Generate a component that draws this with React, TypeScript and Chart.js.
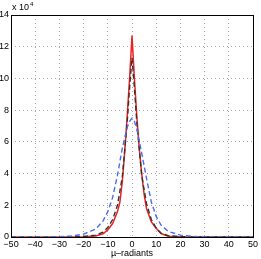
import React, { useEffect, useRef } from "react";
import { Chart, registerables } from "chart.js";

Chart.register(...registerables);

const redX = [-50, -30, -25, -20, -15, -12, -10, -8, -6, -5, -4, -3, -2, -1, 0, 1, 2, 3, 4, 5, 6, 8, 10, 12, 15, 20, 25, 30, 50];
const redY = [0, 0, 0, 0.01, 0.06, 0.2, 0.45, 0.85, 1.6, 2.2, 3.5, 5.4, 7.6, 10.0, 12.7, 10.0, 7.6, 5.6, 4.0, 2.7, 1.8, 0.95, 0.55, 0.22, 0.05, 0.01, 0, 0, 0];

const blackX = [-50, -30, -25, -20, -15, -12, -10, -8, -6, -4, -2, -1, 0, 1, 2, 4, 6, 8, 10, 12, 15, 20, 25, 30, 50];
const blackY = [0, 0, 0.01, 0.03, 0.12, 0.3, 0.6, 1.1, 2.0, 3.8, 7.2, 9.4, 11.3, 9.4, 7.2, 3.9, 2.1, 1.1, 0.55, 0.25, 0.08, 0.02, 0, 0, 0];

const blueX = [-50, -35, -30, -25, -20, -15, -12, -10, -8, -6, -4, -2, -1, 0, 1, 2, 4, 6, 8, 10, 12, 15, 20, 25, 30, 50];
const blueY = [0, 0, 0.02, 0.06, 0.18, 0.5, 1.0, 1.6, 2.5, 3.9, 5.6, 6.9, 7.3, 7.5, 7.3, 6.8, 5.3, 3.7, 2.2, 1.3, 0.75, 0.35, 0.12, 0.04, 0.01, 0];

const xTicks = [-50, -40, -30, -20, -10, 0, 10, 20, 30, 40, 50];
const yTicks = [0, 2, 4, 6, 8, 10, 12, 14];
const yScaleFactor = 10000;

const toPts = (xs: number[], ys: number[]) => xs.map((x, i) => ({ x, y: ys[i] * yScaleFactor }));

const framePlugin = {
  id: "frame",
  afterDraw(chart: any) {
    const { ctx, chartArea: a } = chart;
    ctx.save();
    ctx.strokeStyle = "#000";
    ctx.lineWidth = 1;
    ctx.strokeRect(Math.round(a.left) + 0.5, Math.round(a.top) + 0.5, Math.round(a.right - a.left), Math.round(a.bottom - a.top));
    ctx.fillStyle = "#000";
    ctx.font = "9px 'Liberation Sans', Arial, sans-serif";
    ctx.textBaseline = "alphabetic";
    ctx.fillText("x 10", a.left + 1, a.top - 5);
    ctx.font = "6px 'Liberation Sans', Arial, sans-serif";
    ctx.fillText("4", a.left + 19, a.top - 9);
    ctx.restore();
  },
};

export default function App() {
  const ref = useRef<HTMLCanvasElement>(null);
  useEffect(() => {
    const font = { family: "'Liberation Sans', Arial, sans-serif", size: 9 };
    const chart = new Chart(ref.current!, {
      type: "line",
      data: {
        datasets: [
          { data: toPts(blueX, blueY), borderColor: "#4a6cf0", borderWidth: 1.4, borderDash: [5, 3], pointRadius: 0, tension: 0 },
          { data: toPts(blackX, blackY), borderColor: "#333", borderWidth: 1.4, borderDash: [5, 3], pointRadius: 0, tension: 0 },
          { data: toPts(redX, redY), borderColor: "#ee2222", borderWidth: 1.5, pointRadius: 0, tension: 0 },
        ],
      },
      options: {
        animation: false,
        responsive: false,
        maintainAspectRatio: false,
        layout: { padding: { top: 15, right: 8, left: 0, bottom: 0 } },
        plugins: { legend: { display: false }, tooltip: { enabled: false } },
        scales: {
          x: {
            type: "linear",
            min: -50,
            max: 50,
            afterBuildTicks: (s: any) => { s.ticks = xTicks.map((v) => ({ value: v })); },
            afterFit: (s: any) => { s.height = 22; },
            ticks: { color: "#000", font, padding: 2, maxRotation: 0, autoSkip: false, callback: (v: any) => String(v).replace("-", "\u2212") },
            grid: { color: "#a8a8a8", tickLength: 0, drawTicks: false, lineWidth: 1 },
            border: { display: false, dash: [1, 3] },
            title: { display: true, text: "\u00b5\u2013radiants", color: "#000", font, padding: { top: 0, bottom: 0 } },
          },
          y: {
            type: "linear",
            min: 0,
            max: 140000,
            afterBuildTicks: (s: any) => { s.ticks = yTicks.map((v) => ({ value: v * yScaleFactor })); },
            afterFit: (s: any) => { s.width = 11; },
            ticks: { color: "#000", font, padding: 2, autoSkip: false, callback: (v: any) => String(Number(v) / yScaleFactor) },
            grid: { color: "#a8a8a8", tickLength: 0, drawTicks: false, lineWidth: 1 },
            border: { display: false, dash: [1, 3] },
          },
        },
      },
      plugins: [framePlugin],
    } as any);
    return () => chart.destroy();
  }, []);
  return (
    <div style={{ position: "fixed", left: 0, top: 0, width: 261, height: 259, background: "#fff" }}>
      <canvas ref={ref} width={261} height={259} style={{ display: "block" }} />
    </div>
  );
}
